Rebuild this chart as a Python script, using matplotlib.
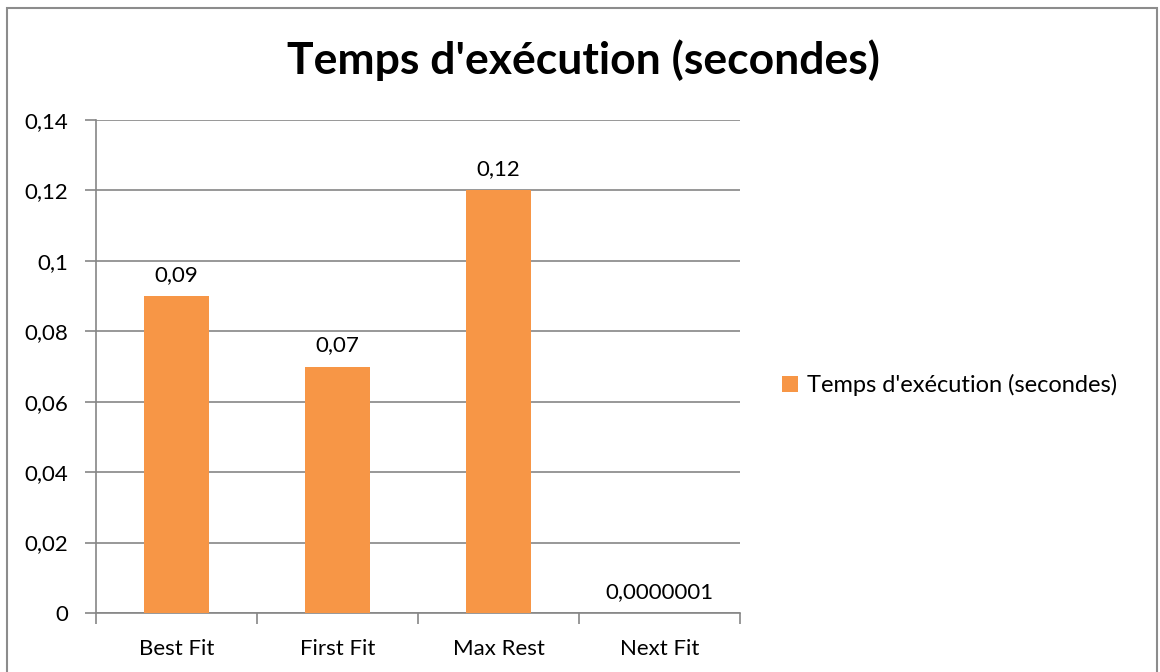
import matplotlib
matplotlib.use("Agg")
import matplotlib.pyplot as plt
from matplotlib.patches import Rectangle
from matplotlib.ticker import FixedLocator

categories = ["Best Fit", "First Fit", "Max Rest", "Next Fit"]
values = [0.09, 0.07, 0.12, 0.0000001]
value_labels = ["0,09", "0,07", "0,12", "0,0000001"]
yticks = [0, 0.02, 0.04, 0.06, 0.08, 0.1, 0.12, 0.14]
ytick_labels = ["0", "0,02", "0,04", "0,06", "0,08", "0,1", "0,12", "0,14"]
series_name = "Temps d'exécution (secondes)"
title = "Temps d'exécution (secondes)"

plt.rcParams['font.family'] = ['Lato', 'DejaVu Sans']

W, H = 1160, 672
fig = plt.figure(figsize=(W / 100, H / 100), dpi=100)
ax = fig.add_axes([96 / W, 1 - 613 / H, (740 - 96) / W, (613 - 120) / H])

grid_c = "#868686"
bar_c = "#F79646"
fs = 16

x = list(range(len(categories)))
bars = ax.bar(x, values, width=0.4, color=bar_c, label=series_name, zorder=3)
ax.set_xlim(-0.5, len(categories) - 0.5)
ax.set_ylim(0, 0.14)

ax.set_yticks(yticks)
ax.set_yticklabels(ytick_labels, fontsize=fs)
ax.set_xticks(x)
ax.set_xticklabels(categories, fontsize=fs)
ax.xaxis.set_minor_locator(FixedLocator([i - 0.5 for i in range(len(categories) + 1)]))
ax.tick_params(axis='x', which='major', length=0, pad=19)
ax.tick_params(axis='x', which='minor', length=8, width=1.2, color=grid_c, direction='out')
ax.tick_params(axis='y', which='major', length=8, width=1.2, color=grid_c, direction='out', pad=12)

ax.grid(axis='y', color=grid_c, linewidth=1.2, zorder=0)
for s in ['top', 'right']:
    ax.spines[s].set_visible(False)
for s in ['left', 'bottom']:
    ax.spines[s].set_color(grid_c)
    ax.spines[s].set_linewidth(1.2)

for xi, v, lab in zip(x, values, value_labels):
    ax.annotate(lab, (xi, v), xytext=(0, 8), textcoords='offset points',
                ha='center', va='bottom', fontsize=fs)

fig.text(583 / W, 1 - 60 / H, title, ha='center', va='center', fontsize=32, fontweight='bold')

leg = fig.legend(handles=[bars], labels=[series_name], loc='center left',
                 bbox_to_anchor=(761 / W, 1 - 385 / H), frameon=False, fontsize=17,
                 handlelength=0.65, handleheight=0.65, handletextpad=0.4)

fig.patches.append(Rectangle((6.5 / W, -0.05), (1157 - 6.5) / W, 1.05 - 8 / H,
                             transform=fig.transFigure, fill=False,
                             edgecolor="#8c8c8c", linewidth=1.5))

fig.savefig("out.png", dpi=100)
